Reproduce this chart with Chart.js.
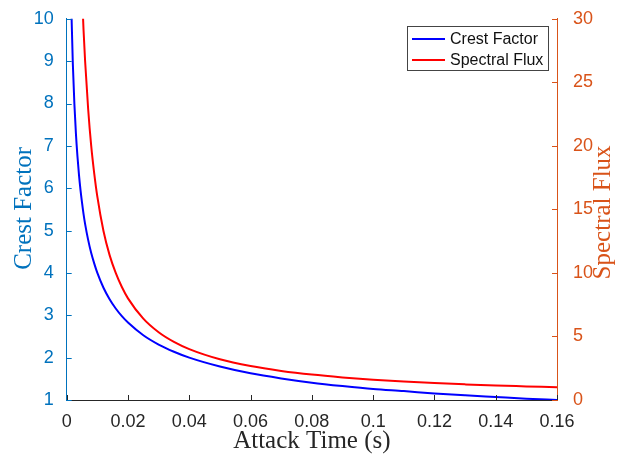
<!DOCTYPE html>
<html>
<head>
<meta charset="utf-8">
<script src="https://cdn.jsdelivr.net/npm/chart.js@4.4.1/dist/chart.umd.min.js"></script>
<style>
  html, body { margin: 0; padding: 0; background: #fff; }
  #wrap { width: 619px; height: 455px; position: relative; }
</style>
</head>
<body>
<div id="wrap"><canvas id="c" width="619" height="455"></canvas></div>
<script>
// ---- data ----
const attackTime = [0.0015, 0.0016, 0.002, 0.0025, 0.003, 0.0035, 0.004, 0.0045, 0.005, 0.0055, 0.006, 0.007, 0.008, 0.009, 0.010, 0.012, 0.014, 0.016, 0.018, 0.020, 0.025, 0.030, 0.035, 0.040, 0.050, 0.060, 0.070, 0.080, 0.090, 0.100, 0.110, 0.120, 0.130, 0.140, 0.150, 0.160];
const crestFactor = [10.33, 10.0, 8.94, 8.0, 7.30, 6.76, 6.32, 5.96, 5.66, 5.39, 5.16, 4.78, 4.47, 4.22, 4.0, 3.65, 3.38, 3.16, 2.98, 2.83, 2.53, 2.31, 2.14, 2.0, 1.79, 1.63, 1.51, 1.41, 1.33, 1.26, 1.21, 1.155, 1.11, 1.07, 1.03, 1.0];
const spectralFlux = [106.7, 100, 80, 64, 53.3, 45.7, 40, 35.6, 32, 29.1, 26.7, 22.9, 20, 17.8, 16, 13.3, 11.4, 10, 8.89, 8, 6.4, 5.33, 4.57, 4, 3.2, 2.67, 2.29, 2, 1.78, 1.6, 1.45, 1.33, 1.23, 1.14, 1.07, 1.0];
const seriesLabels = ['Crest Factor', 'Spectral Flux'];
const xTitle = 'Attack Time (s)';
const leftTitle = 'Crest Factor';
const rightTitle = 'Spectral Flux';
const xTicks = [0, 0.02, 0.04, 0.06, 0.08, 0.10, 0.12, 0.14, 0.16];
const leftTicks = [1, 2, 3, 4, 5, 6, 7, 8, 9, 10];
const rightTicks = [0, 5, 10, 15, 20, 25, 30];

const LEFT_C = '#0072BD';
const RIGHT_C = '#D95319';
const AX_C = '#262626';
const SANS = "'Liberation Sans', Arial, Helvetica, sans-serif";
const SERIF = "'Liberation Serif', 'Times New Roman', serif";
const tickFont = { family: SANS, size: 18 };

const toPts = (xs, ys) => xs.map((x, i) => ({ x: x, y: ys[i] }));

const decorations = {
  id: 'decorations',
  afterDatasetsDraw(chart) {
    const { ctx, chartArea: a, scales } = chart;
    ctx.save();
    ctx.lineWidth = 1;
    const L = 5;
    ctx.strokeStyle = AX_C;
    xTicks.forEach(v => {
      const px = Math.round(scales.x.getPixelForValue(v)) + 0.5;
      ctx.beginPath(); ctx.moveTo(px, a.bottom); ctx.lineTo(px, a.bottom - L); ctx.stroke();
    });
    ctx.strokeStyle = LEFT_C;
    leftTicks.forEach(v => {
      const py = Math.round(scales.y.getPixelForValue(v)) + 0.5;
      ctx.beginPath(); ctx.moveTo(a.left, py); ctx.lineTo(a.left + L, py); ctx.stroke();
    });
    ctx.strokeStyle = RIGHT_C;
    rightTicks.forEach(v => {
      const py = Math.round(scales.y1.getPixelForValue(v)) + 0.5;
      ctx.beginPath(); ctx.moveTo(a.right, py); ctx.lineTo(a.right - L, py); ctx.stroke();
    });

    // axis titles (MATLAB style: both y titles read bottom-to-top)
    ctx.font = '25px ' + SERIF;
    ctx.textAlign = 'center';
    ctx.textBaseline = 'alphabetic';
    ctx.fillStyle = AX_C;
    ctx.fillText(xTitle, (a.left + a.right) / 2, 448);
    const midY = (a.top + a.bottom) / 2;
    ctx.save();
    ctx.translate(31, midY - 1);
    ctx.rotate(-Math.PI / 2);
    ctx.fillStyle = LEFT_C;
    ctx.fillText(leftTitle, 0, 0);
    ctx.restore();
    ctx.save();
    ctx.translate(610, midY + 3);
    ctx.rotate(-Math.PI / 2);
    ctx.fillStyle = RIGHT_C;
    ctx.fillText(rightTitle, 0, 0);
    ctx.restore();

    // legend box
    const bx = 407.5, by = 26.5, bw = 141, bh = 44;
    ctx.fillStyle = '#ffffff';
    ctx.fillRect(bx, by, bw, bh);
    ctx.lineWidth = 1;
    ctx.strokeStyle = '#444444';
    ctx.strokeRect(bx, by, bw, bh);
    ctx.font = '16px ' + SANS;
    ctx.textAlign = 'left';
    ctx.textBaseline = 'middle';
    ctx.fillStyle = '#111111';
    chart.data.datasets.forEach((ds, i) => {
      const y = 39 + i * 21;
      ctx.strokeStyle = ds.borderColor;
      ctx.lineWidth = 2;
      ctx.beginPath(); ctx.moveTo(412, y); ctx.lineTo(445, y); ctx.stroke();
      ctx.fillText(ds.label, 450, y + 1);
    });
    ctx.restore();
  }
};

new Chart(document.getElementById('c'), {
  type: 'line',
  data: {
    datasets: [
      { label: seriesLabels[0], data: toPts(attackTime, crestFactor), yAxisID: 'y', borderColor: '#0000FF', borderWidth: 2, pointRadius: 0, cubicInterpolationMode: 'monotone', fill: false },
      { label: seriesLabels[1], data: toPts(attackTime, spectralFlux), yAxisID: 'y1', borderColor: '#FF0000', borderWidth: 2, pointRadius: 0, cubicInterpolationMode: 'monotone', fill: false }
    ]
  },
  options: {
    responsive: false,
    animation: false,
    devicePixelRatio: 1,
    layout: { padding: { top: 15.5, left: 0, right: 0, bottom: 0 } },
    plugins: { legend: { display: false }, tooltip: { enabled: false } },
    scales: {
      x: {
        type: 'linear', min: 0, max: 0.16,
        afterBuildTicks: s => { s.ticks = xTicks.map(v => ({ value: v })); },
        afterFit: s => { s.height = 55; },
        grid: { display: false },
        border: { display: true, color: AX_C, width: 1 },
        ticks: { color: AX_C, font: tickFont, padding: 3, maxRotation: 0, callback: v => String(+v.toFixed(2)) },
        title: { display: false }
      },
      y: {
        type: 'linear', position: 'left', min: 1, max: 10,
        afterBuildTicks: s => { s.ticks = leftTicks.map(v => ({ value: v })); },
        afterFit: s => { s.width = 66.7; },
        grid: { display: false },
        border: { display: true, color: LEFT_C, width: 1 },
        ticks: { color: LEFT_C, font: tickFont, padding: 5 },
        title: { display: false }
      },
      y1: {
        type: 'linear', position: 'right', min: 0, max: 30,
        afterBuildTicks: s => { s.ticks = rightTicks.map(v => ({ value: v })); },
        afterFit: s => { s.width = 62; },
        grid: { display: false },
        border: { display: true, color: RIGHT_C, width: 1 },
        ticks: { color: RIGHT_C, font: tickFont, padding: 8 },
        title: { display: false }
      }
    }
  },
  plugins: [decorations]
});
</script>
</body>
</html>
